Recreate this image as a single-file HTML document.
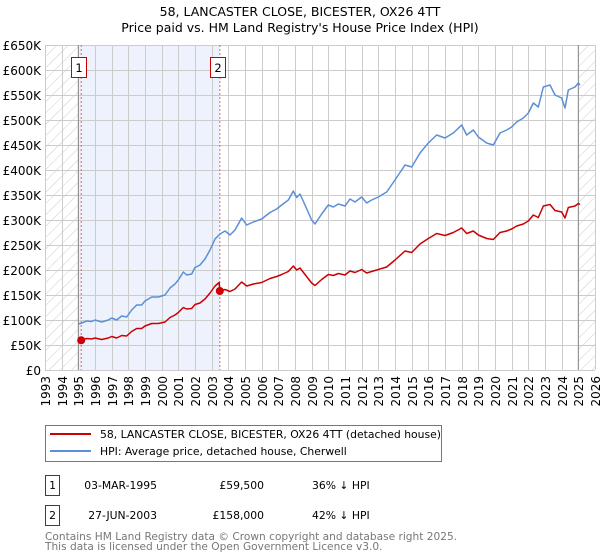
<!DOCTYPE html>
<html><head><meta charset="utf-8"><style>
html,body{margin:0;padding:0;background:#fff;width:600px;height:560px;overflow:hidden;font-family:"DejaVu Sans","Liberation Sans",sans-serif;}
svg{display:block}
</style></head><body>
<svg id="chart" width="600" height="560" viewBox="0 0 600 560" xmlns="http://www.w3.org/2000/svg">
<defs>
<pattern id="hatch" patternUnits="userSpaceOnUse" width="8" height="8" patternTransform="rotate(45)">
<line x1="0" y1="0" x2="0" y2="8" stroke="#ccc" stroke-width="1"/>
</pattern>
</defs>
<text x="300" y="16" text-anchor="middle" font-size="12.5" fill="#000">58, LANCASTER CLOSE, BICESTER, OX26 4TT</text>
<text x="300" y="32" text-anchor="middle" font-size="12.5" fill="#000">Price paid vs. HM Land Registry's House Price Index (HPI)</text>
<g id="plot"></g>
<g>
<rect x="45.5" y="425.5" width="396" height="36" fill="#fff" stroke="#777"/>
<line x1="50" y1="434" x2="91" y2="434" stroke="#cc0000" stroke-width="2"/>
<text x="100" y="438" font-size="10.8">58, LANCASTER CLOSE, BICESTER, OX26 4TT (detached house)</text>
<line x1="50" y1="451" x2="91" y2="451" stroke="#5b8fd6" stroke-width="2"/>
<text x="100" y="455" font-size="10.8">HPI: Average price, detached house, Cherwell</text>
</g>
<g font-size="10.8">
<rect x="45.5" y="475.5" width="14" height="20" fill="#fff" stroke="#cc0000"/>
<text x="52.5" y="489" text-anchor="middle">1</text>
<text x="157" y="489" text-anchor="end">03-MAR-1995</text>
<text x="264" y="489" text-anchor="end">£59,500</text>
<text x="312" y="489">36% ↓ HPI</text>
<rect x="45.5" y="505.5" width="14" height="20" fill="#fff" stroke="#cc0000"/>
<text x="52.5" y="519" text-anchor="middle">2</text>
<text x="157" y="519" text-anchor="end">27-JUN-2003</text>
<text x="264" y="519" text-anchor="end">£158,000</text>
<text x="312" y="519">42% ↓ HPI</text>
</g>
<text x="45" y="540" font-size="10.6" fill="#777">Contains HM Land Registry data © Crown copyright and database right 2025.</text>
<text x="45" y="550" font-size="10.6" fill="#777">This data is licensed under the Open Government Licence v3.0.</text>
</svg>
<script>
const hpiYears=[1995.0,1995.2,1995.5,1995.8,1996.0,1996.4,1996.8,1997.0,1997.3,1997.6,1997.9,1998.2,1998.5,1998.8,1999.0,1999.4,1999.8,2000.2,2000.5,2000.8,2001.0,2001.3,2001.5,2001.8,2002.0,2002.3,2002.6,2002.9,2003.2,2003.5,2003.8,2004.1,2004.4,2004.8,2005.1,2005.5,2006.0,2006.5,2006.9,2007.2,2007.6,2007.9,2008.1,2008.3,2008.6,2009.0,2009.2,2009.6,2010.0,2010.3,2010.6,2011.0,2011.3,2011.6,2012.0,2012.3,2012.6,2013.0,2013.5,2014.0,2014.6,2015.0,2015.5,2016.0,2016.5,2017.0,2017.5,2018.0,2018.3,2018.7,2019.0,2019.5,2019.9,2020.3,2020.7,2021.0,2021.3,2021.7,2022.0,2022.3,2022.6,2022.9,2023.3,2023.6,2024.0,2024.2,2024.4,2024.8,2025.0,2025.1];
const hpiValues=[92,94,98,97,100,96,100,104,100,108,106,120,130,130,138,146,146,150,164,172,180,196,190,192,205,210,222,240,262,272,278,270,280,304,290,296,302,315,322,330,340,358,345,352,330,300,292,312,330,326,332,328,342,336,346,334,340,346,356,380,410,406,434,454,470,464,474,490,470,480,466,454,450,474,480,486,496,504,514,534,526,566,570,550,544,524,560,566,574,570];
const priceYears=[1995.17,1995.5,1995.8,1996.0,1996.4,1996.8,1997.0,1997.3,1997.6,1997.9,1998.2,1998.5,1998.8,1999.0,1999.4,1999.8,2000.2,2000.5,2000.8,2001.0,2001.3,2001.5,2001.8,2002.0,2002.3,2002.6,2002.9,2003.2,2003.45,2003.49,2003.8,2004.1,2004.4,2004.8,2005.1,2005.5,2006.0,2006.5,2006.9,2007.2,2007.6,2007.9,2008.1,2008.3,2008.6,2009.0,2009.2,2009.6,2010.0,2010.3,2010.6,2011.0,2011.3,2011.6,2012.0,2012.3,2012.6,2013.0,2013.5,2014.0,2014.6,2015.0,2015.5,2016.0,2016.5,2017.0,2017.5,2018.0,2018.3,2018.7,2019.0,2019.5,2019.9,2020.3,2020.7,2021.0,2021.3,2021.7,2022.0,2022.3,2022.6,2022.9,2023.3,2023.6,2024.0,2024.2,2024.4,2024.8,2025.0,2025.1];
const priceValues=[59.5,63,62,64,61,64,67,64,69,68,77,83,83,88,93,93,96,105,110,115,125,122,123,131,134,142,154,168,175,158,161,157,162,176,168,172,175,183,187,191,197,208,200,204,191,174,169,181,191,189,193,190,198,195,201,194,197,201,206,220,238,235,252,263,273,269,275,284,273,278,270,263,261,275,278,282,288,292,298,310,305,328,331,319,316,304,325,328,333,331];
const saleYears=[1995.17,2003.49];
const saleValues=[59.5,158];
const saleLabels=["1","2"];
const yTicks=[0,50,100,150,200,250,300,350,400,450,500,550,600,650];
const yTickLabels=["£0","£50K","£100K","£150K","£200K","£250K","£300K","£350K","£400K","£450K","£500K","£550K","£600K","£650K"];
const xTicks=[1993,1994,1995,1996,1997,1998,1999,2000,2001,2002,2003,2004,2005,2006,2007,2008,2009,2010,2011,2012,2013,2014,2015,2016,2017,2018,2019,2020,2021,2022,2023,2024,2025,2026];

const L=45,R=595,T=45,B=370,X0=1993,X1=2026,Y1=650;
const xs=v=>L+(v-X0)/(X1-X0)*(R-L);
const ys=v=>B-v/Y1*(B-T);
const NS="http://www.w3.org/2000/svg";
const plot=document.getElementById('plot');
function mk(tag,attrs,parent){const e=document.createElementNS(NS,tag);for(const k in attrs)e.setAttribute(k,attrs[k]);(parent||plot).appendChild(e);return e;}

let e;
e=mk('rect',{x:xs(1995),y:T,width:xs(2003.49)-xs(1995),height:B-T,fill:'#edf2fd'});


e=mk('rect',{x:L,y:T,width:xs(1995)-L,height:B-T,fill:'url(#hatch)'});


e=mk('rect',{x:xs(2025),y:T,width:R-xs(2025),height:B-T,fill:'url(#hatch)'});



xTicks.forEach(t=>{
  const x=Math.round(xs(t))+0.5;
  e=mk('line',{x1:x,y1:T,x2:x,y2:B,stroke:'#cccccc','stroke-width':1});
  
  
  e=mk('text',{x:0,y:0,transform:`translate(${x+4.5},${B+6}) rotate(-90)`,'text-anchor':'end','font-size':12});
  e.textContent=t;
  
  
});
yTicks.forEach((t,i)=>{
  const y=Math.round(ys(t))+0.5;
  e=mk('line',{x1:L,y1:y,x2:R,y2:y,stroke:'#cccccc','stroke-width':1});
  
  
  e=mk('text',{x:41,y:y+4.5,'text-anchor':'end','font-size':12});
  e.textContent=yTickLabels[i];
  
  
});
e=mk('line',{x1:xs(1995),y1:T,x2:xs(1995),y2:B,stroke:'#888','stroke-width':1});


e=mk('line',{x1:xs(2025),y1:T,x2:xs(2025),y2:B,stroke:'#888','stroke-width':1});



saleYears.forEach((yr,i)=>{
  const x=xs(yr);
  e=mk('line',{x1:x,y1:T,x2:x,y2:B,stroke:'#e06666','stroke-width':1,'stroke-dasharray':'2,2'});
  
  
  e=mk('rect',{x:Math.round(x)-9.5,y:57.5,width:15,height:20,fill:'#fff',stroke:'#cc0000'});
  
  
  e=mk('text',{x:Math.round(x)-2,y:72,'text-anchor':'middle','font-size':11.5});
  e.textContent=saleLabels[i];
  
  
});

e=mk('polyline',{points:hpiYears.map((y,i)=>xs(y)+','+ys(hpiValues[i])).join(' '),fill:'none',stroke:'#5b8fd6','stroke-width':1.5,'stroke-linejoin':'round'});


e=mk('polyline',{points:priceYears.map((y,i)=>xs(y)+','+ys(priceValues[i])).join(' '),fill:'none',stroke:'#cc0000','stroke-width':1.5,'stroke-linejoin':'round'});


saleYears.forEach((yr,i)=>{
  e=mk('circle',{cx:xs(yr),cy:ys(saleValues[i]),r:4,fill:'#cc0000'});
  
  
});
</script>
</body></html>
